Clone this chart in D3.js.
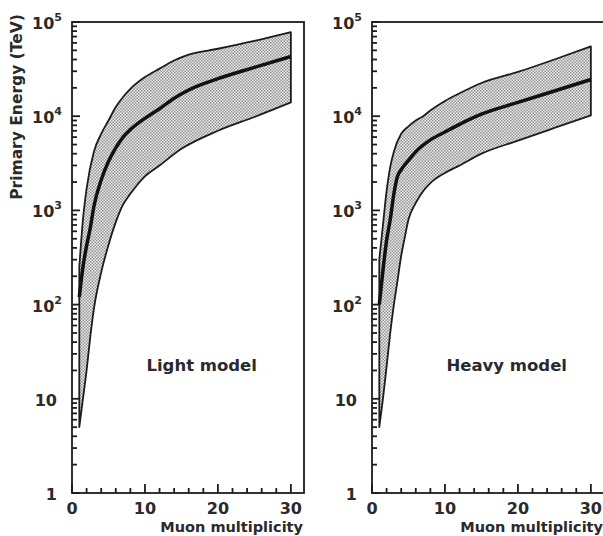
<!DOCTYPE html>
<html>
<head>
<meta charset="utf-8">
<script src="https://cdn.jsdelivr.net/npm/d3@7"></script>
<style>
  body { margin: 0; background: #fff; }
  text { font-family: "DejaVu Sans", sans-serif; fill: #2a2a2a; }
</style>
</head>
<body>
<div id="chart"></div>
<script>
// ---- data (x = muon multiplicity, y = primary energy in TeV)
const lightUpperX = [1, 1.5, 2, 3, 4, 5, 6, 7, 8, 10, 12, 14, 16, 20, 25, 30];
const lightUpperY = [250, 800, 1700, 4200, 6500, 9000, 12500, 16000, 19500, 26000, 32000, 39000, 45000, 52000, 63000, 78000];
const lightMidX = [1, 1.5, 2, 2.5, 3, 4, 5, 6, 7, 8, 10, 12, 14, 16, 20, 25, 30];
const lightMidY = [120, 250, 420, 650, 1100, 2100, 3300, 4600, 6000, 7200, 9500, 12000, 15500, 19000, 25000, 33000, 43000];
const lightLowX = [1, 1.5, 2, 2.5, 3, 4, 5, 6, 7, 8, 10, 12, 15, 20, 25, 30];
const lightLowY = [5, 10, 20, 45, 90, 220, 430, 750, 1150, 1500, 2300, 3000, 4500, 7000, 9800, 14000];

const heavyUpperX = [1, 1.5, 2, 2.5, 3, 4, 5, 6, 7, 8, 10, 12, 15, 20, 25, 30];
const heavyUpperY = [300, 700, 1600, 2900, 4200, 6500, 7800, 9000, 10000, 11500, 14500, 17500, 22500, 29500, 40000, 55000];
const heavyMidX = [1, 1.5, 2, 2.5, 3, 3.5, 4, 5, 6, 8, 10, 12, 15, 20, 25, 30];
const heavyMidY = [100, 230, 480, 800, 1500, 2300, 2700, 3400, 4200, 5600, 6800, 8200, 10500, 14000, 18500, 24500];
const heavyLowX = [1, 1.5, 2, 2.5, 3, 3.5, 4, 4.5, 5, 6, 7, 8, 10, 12, 15, 20, 25, 30];
const heavyLowY = [5, 10, 22, 50, 100, 180, 330, 520, 800, 1200, 1600, 1950, 2500, 3000, 4000, 5500, 7500, 10200];

const panelNames = ["Light model", "Heavy model"];
const xTickValues = [0, 10, 20, 30];
const xMinorValues = [2, 4, 6, 8, 12, 14, 16, 18, 22, 24, 26, 28];
const yDecades = [1, 10, 100, 1000, 10000, 100000];
const yDecadeLabels = [["1", ""], ["10", ""], ["10", "2"], ["10", "3"], ["10", "4"], ["10", "5"]];
const xTitle = "Muon multiplicity";
const yTitle = "Primary Energy (TeV)";

const pts = (xs, ys) => xs.map((x, i) => [x, ys[i]]);
const panels = [
    {name: panelNames[0], left: 72, upper: pts(lightUpperX, lightUpperY), mid: pts(lightMidX, lightMidY), low: pts(lightLowX, lightLowY)},
    {name: panelNames[1], left: 372, upper: pts(heavyUpperX, heavyUpperY), mid: pts(heavyMidX, heavyMidY), low: pts(heavyLowX, heavyLowY)}
];

const W = 603, H = 536;
const plotTop = 22, plotBottom = 493, panelW = 232;
const ink = "#1c1c1c";

const svg = d3.select("#chart").append("svg")
    .attr("width", W).attr("height", H);

// stipple pattern for the band
const pat = svg.append("defs").append("pattern")
    .attr("id", "stipple")
    .attr("width", 3).attr("height", 3)
    .attr("patternUnits", "userSpaceOnUse");
pat.append("rect").attr("width", 3).attr("height", 3).attr("fill", "#ececec");
pat.append("rect").attr("width", 1.5).attr("height", 1.5).attr("fill", "#949494");
pat.append("rect").attr("x", 1.5).attr("y", 1.5).attr("width", 1.5).attr("height", 1.5).attr("fill", "#949494");

const yScale = d3.scaleLog().domain([1, 1e5]).range([plotBottom, plotTop]);
const yAllTicks = yScale.ticks();

panels.forEach((p, pi) => {
    const xScale = d3.scaleLinear().domain([0, 31.8]).range([p.left, p.left + panelW]);
    const g = svg.append("g").attr("class", "panel" + pi);

    const line = d3.line().x(d => xScale(d[0])).y(d => yScale(d[1])).curve(d3.curveMonotoneX);

    // band: upper curve forward, lower curve back, closed at multiplicity 1
    const band = line(p.upper) + line(p.low.slice().reverse()).replace(/^M/, "L") + "Z";
    g.append("path").attr("d", band)
        .attr("fill", "url(#stipple)")
        .attr("stroke", ink).attr("stroke-width", 1.8).attr("stroke-linejoin", "round");

    g.append("path").attr("d", line(p.mid))
        .attr("fill", "none").attr("stroke", "#111").attr("stroke-width", 3.5);

    // y ticks, pointing inward
    g.selectAll(".ytick").data(yAllTicks).join("path")
        .attr("class", "ytick")
        .attr("d", d => `M${p.left},${yScale(d)}h${yDecades.includes(d) ? 8 : 5}`)
        .attr("fill", "none").attr("stroke", ink).attr("stroke-width", 1.8);

    // x ticks, pointing up
    g.selectAll(".xtick").data(xTickValues.concat(xMinorValues)).join("path")
        .attr("class", "xtick")
        .attr("d", d => `M${xScale(d)},${plotBottom}v${xTickValues.includes(d) ? -9 : -5}`)
        .attr("fill", "none").attr("stroke", ink).attr("stroke-width", 1.8);

    // frame
    g.append("rect")
        .attr("x", p.left).attr("y", plotTop)
        .attr("width", panelW).attr("height", plotBottom - plotTop)
        .attr("fill", "none").attr("stroke", ink).attr("stroke-width", 1.8);

    // y tick labels
    yDecades.forEach((v, i) => {
        const lab = yDecadeLabels[i];
        const t = g.append("text")
            .attr("y", yScale(v) + 7)
            .attr("font-size", 16).attr("font-weight", "bold");
        if (lab[1]) {
            t.attr("x", p.left - 10).attr("text-anchor", "end");
            t.append("tspan").text(lab[0]);
            t.append("tspan").attr("dy", -8).attr("font-size", 11).text(lab[1]);
        } else {
            t.attr("x", p.left - 15).attr("text-anchor", "end").text(lab[0]);
        }
    });

    // x tick labels
    g.selectAll(".xlab").data(xTickValues).join("text")
        .attr("class", "xlab")
        .attr("x", d => xScale(d)).attr("y", plotBottom + 21)
        .attr("text-anchor", "middle")
        .attr("font-size", 16).attr("font-weight", "bold")
        .text(d => d);

    g.append("text")
        .attr("x", p.left + panelW - 1).attr("y", plotBottom + 39)
        .attr("text-anchor", "end")
        .attr("font-size", 14.5).attr("font-weight", "bold")
        .text(xTitle);

    g.append("text")
        .attr("x", xScale(10.2)).attr("y", yScale(10) - 28)
        .attr("font-size", 16.5).attr("font-weight", "bold")
        .text(p.name);
});

svg.append("text")
    .attr("transform", `translate(22,107) rotate(-90)`)
    .attr("text-anchor", "middle")
    .attr("font-size", 15.5).attr("font-weight", "bold")
    .text(yTitle);
</script>
</body>
</html>
